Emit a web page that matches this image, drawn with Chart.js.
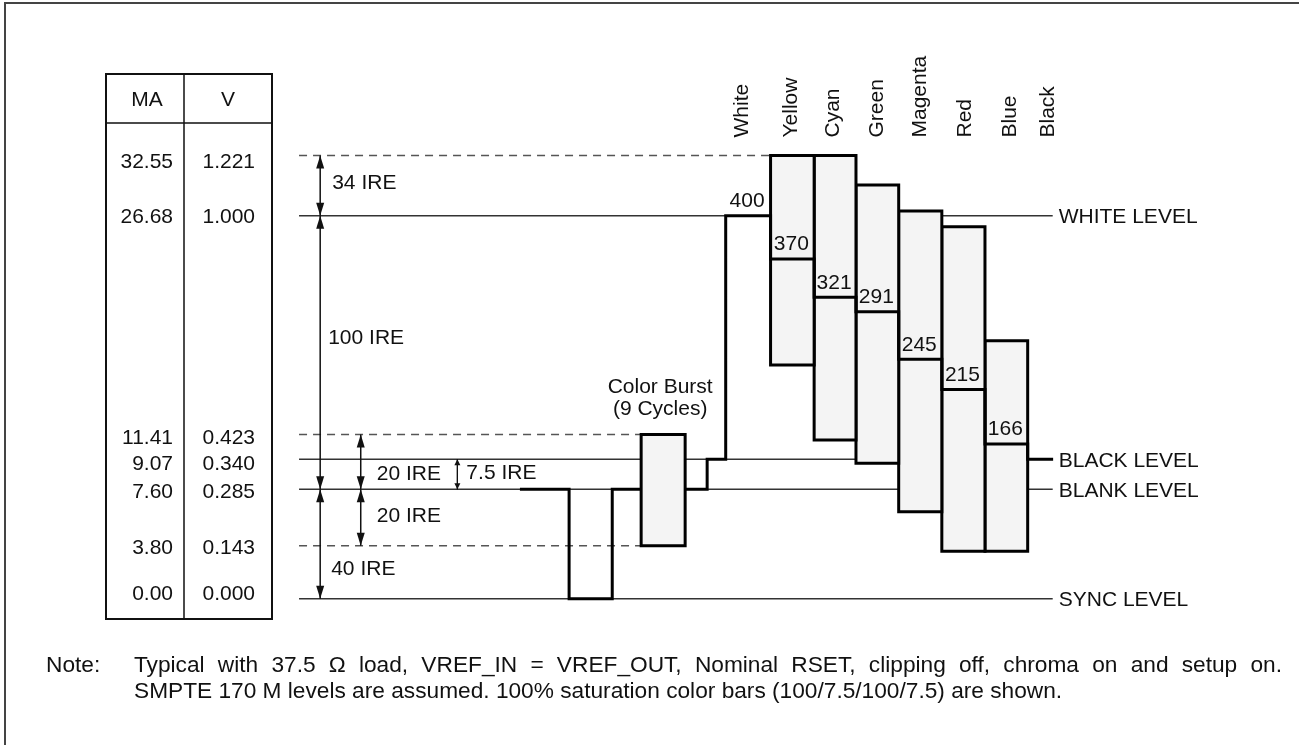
<!DOCTYPE html>
<html>
<head>
<meta charset="utf-8">
<script src="https://cdn.jsdelivr.net/npm/chart.js@4.4.1/dist/chart.umd.min.js"></script>
<style>
  html, body { margin: 0; padding: 0; background: #ffffff; }
  canvas { display: block; }
</style>
</head>
<body>
<canvas id="chart" width="1299" height="745"></canvas>
<script>
// ------------------------------------------------------------------
// DATA (time axis: 1 unit ≈ one colour-bar width; level axis: IRE as drawn)
// ------------------------------------------------------------------
const barNames      = ['White', 'Yellow', 'Cyan', 'Green', 'Magenta', 'Red', 'Blue', 'Black'];
const barEdges      = [0, 1.04, 2.05, 3.02, 4.01, 5.01, 6.01, 7.00, 7.59];
const lumaLevels    = [100, 84.2, 70.2, 64.9, 47.5, 36.5, 16.6, 11];
const chromaTop     = [null, 122, 122, 111.2, 101.7, 96.0, 54.3, null];
const chromaBottom  = [null, 45.4, 18.0, 9.5, -8.2, -22.6, -22.6, null];
const dacCodes      = ['400', '370', '321', '291', '245', '215', '166', null];

const levelValues   = [122, 100, 20, 11, 0, -20.6, -40];
const maLabels      = ['32.55', '26.68', '11.41', '9.07', '7.60', '3.80', '0.00'];
const vLabels       = ['1.221', '1.000', '0.423', '0.340', '0.285', '0.143', '0.000'];
const levelNames    = [null, 'WHITE LEVEL', null, 'BLACK LEVEL', 'BLANK LEVEL', null, 'SYNC LEVEL'];
const solidLevels   = [100, 11, 0, -40];
const dashedLevels  = [122, 20, -20.6];

// blank start, sync fall, sync rise, burst start, burst end, setup step
const blankingTimes = [-4.77, -3.63, -2.63, -1.96, -0.94, -0.43];
const burstLevels   = [20, -20.6];
const referenceSpan = [-9.89, 7.58];

const arrowX        = [-9.40, -9.40, -9.40, -8.46, -8.46, -6.22];
const arrowFrom     = [122, 100, 0, 20, 0, 11];
const arrowTo       = [100, 0, -40, 0, -20.6, 0];
const arrowLabels   = ['34 IRE', '100 IRE', '40 IRE', '20 IRE', '20 IRE', '7.5 IRE'];

const noteLines = [
  'Typical with 37.5 \u03A9 load, VREF_IN = VREF_OUT, Nominal RSET, clipping off, chroma on and setup on.',
  'SMPTE 170 M levels are assumed. 100% saturation color bars (100/7.5/100/7.5) are shown.'
];

// ------------------------------------------------------------------
// DATASETS built from the arrays
// ------------------------------------------------------------------
const [tBlank, tSyncFall, tSyncRise, tBurstStart, tBurstEnd, tSetup] = blankingTimes;
const LV = { peak: levelValues[0], white: levelValues[1], black: levelValues[3], blank: levelValues[4], sync: levelValues[6] };
const datasets = [];

solidLevels.forEach(v => datasets.push({
  data: [{ x: referenceSpan[0], y: v }, { x: referenceSpan[1], y: v }],
  borderColor: '#333', borderWidth: 1.5, order: 10
}));

const dashedEnds = [barEdges[1], tBurstStart, tBurstStart];
dashedLevels.forEach((v, i) => datasets.push({
  data: [{ x: referenceSpan[0], y: v }, { x: dashedEnds[i], y: v }],
  borderColor: '#555', borderWidth: 1.5, borderDash: [8, 6], order: 10
}));

arrowX.forEach((x, i) => datasets.push({
  data: [{ x, y: arrowFrom[i] }, { x, y: arrowTo[i] }],
  borderColor: '#111', borderWidth: i === 5 ? 1 : 1.5, order: 9,
  arrowHead: i === 5 ? [6, 3] : [13, 4]
}));

// waveform: blanking + sync (before burst)
datasets.push({
  data: [
    { x: tBlank, y: LV.blank }, { x: tSyncFall, y: LV.blank }, { x: tSyncFall, y: LV.sync },
    { x: tSyncRise, y: LV.sync }, { x: tSyncRise, y: LV.blank }, { x: tBurstStart, y: LV.blank }
  ],
  borderColor: '#000', borderWidth: 3, order: 5
});

// chroma envelopes (burst + colour bars)
function boxPath(x0, x1, top, bottom) {
  const xm = (x0 + x1) / 2;
  return [{ x: xm, y: bottom }, { x: x0, y: bottom }, { x: x0, y: top }, { x: x1, y: top }, { x: x1, y: bottom }, { x: xm, y: bottom }];
}
const boxes = [{ x0: tBurstStart, x1: tBurstEnd, top: burstLevels[0], bottom: burstLevels[1] }];
barNames.forEach((n, i) => {
  if (chromaTop[i] !== null) boxes.push({ x0: barEdges[i], x1: barEdges[i + 1], top: chromaTop[i], bottom: chromaBottom[i] });
});
boxes.forEach(b => datasets.push({
  data: boxPath(b.x0, b.x1, b.top, b.bottom),
  fill: 'shape', backgroundColor: '#f4f4f4', borderColor: '#000', borderWidth: 3, order: 3
}));

// waveform: after burst, setup, colour bars (luminance)
const active = [{ x: tBurstEnd, y: LV.blank }, { x: tSetup, y: LV.blank }, { x: tSetup, y: LV.black }, { x: barEdges[0], y: LV.black }];
lumaLevels.forEach((v, i) => { active.push({ x: barEdges[i], y: v }, { x: barEdges[i + 1], y: v }); });
datasets.push({ data: active, borderColor: '#000', borderWidth: 3, order: 1 });

// ------------------------------------------------------------------
// Drawing plugin for text, table, arrowheads, frame
// ------------------------------------------------------------------
const FONT = '"Liberation Sans", Arial, Helvetica, sans-serif';
const FS = 21;
function txt(ctx, s, x, yMid, size, align) {
  ctx.font = size + 'px ' + FONT;
  ctx.textAlign = align || 'left';
  ctx.textBaseline = 'alphabetic';
  ctx.fillText(s, x, yMid + size * 0.36);
}

const diagramPlugin = {
  id: 'diagram',
  beforeDraw(chart) {
    const ctx = chart.ctx;
    ctx.save();
    ctx.fillStyle = '#fff';
    ctx.fillRect(0, 0, chart.width, chart.height);
    ctx.strokeStyle = '#444';
    ctx.lineWidth = 2;
    ctx.beginPath();
    ctx.moveTo(5, chart.height); ctx.lineTo(5, 3); ctx.lineTo(chart.width, 3);
    ctx.stroke();
    ctx.restore();
  },
  afterDatasetsDraw(chart) {
    const ctx = chart.ctx;
    ctx.save();
    ctx.fillStyle = '#111';
    chart.data.datasets.forEach((ds, i) => {
      if (!ds.arrowHead) return;
      const pts = chart.getDatasetMeta(i).data;
      const [len, hw] = ds.arrowHead;
      [[pts[0], pts[1]], [pts[1], pts[0]]].forEach(([tip, other]) => {
        const dir = Math.sign(tip.y - other.y);
        ctx.beginPath();
        ctx.moveTo(tip.x, tip.y);
        ctx.lineTo(tip.x - hw, tip.y - dir * len);
        ctx.lineTo(tip.x + hw, tip.y - dir * len);
        ctx.closePath();
        ctx.fill();
      });
    });
    ctx.restore();
  },
  afterDraw(chart) {
    const ctx = chart.ctx;
    const X = v => chart.scales.x.getPixelForValue(v);
    const Y = v => chart.scales.y.getPixelForValue(v);
    ctx.save();
    ctx.fillStyle = '#111';

    // colour names (rotated)
    const nameX = [0.524, 1.646, 2.626, 3.653, 4.638, 5.69, 6.73, 7.61];
    barNames.forEach((n, i) => {
      ctx.save();
      ctx.translate(X(nameX[i]), Y(LV.peak) - 18);
      ctx.rotate(-Math.PI / 2);
      ctx.font = FS + 'px ' + FONT;
      ctx.textAlign = 'left';
      ctx.textBaseline = 'alphabetic';
      ctx.fillText(n, 0, 0);
      ctx.restore();
    });

    // DAC codes above each luminance step
    dacCodes.forEach((c, i) => {
      if (!c) return;
      txt(ctx, c, (X(barEdges[i]) + X(barEdges[i + 1])) / 2 - 1, Y(lumaLevels[i]) - 16, FS, 'center');
    });

    // dimension labels
    const lblOff = [[12, -4], [8, -16], [11, 23], [16, 10], [16, -3], [9, -3]];
    arrowLabels.forEach((s, i) => {
      const mid = (Y(arrowFrom[i]) + Y(arrowTo[i])) / 2;
      txt(ctx, s, X(arrowX[i]) + lblOff[i][0], mid + lblOff[i][1], FS, 'left');
    });

    // colour burst label
    const bx = (X(tBurstStart) + X(tBurstEnd)) / 2 - 3;
    txt(ctx, 'Color Burst', bx, Y(burstLevels[0]) - 49, FS, 'center');
    txt(ctx, '(9 Cycles)', bx, Y(burstLevels[0]) - 27, FS, 'center');

    // level names on the right
    levelNames.forEach((s, i) => {
      if (!s) return;
      txt(ctx, s, X(referenceSpan[1]) + 6, Y(levelValues[i]), FS, 'left');
    });

    // table
    const tL = 106, tR = 272, tT = 74, tB = 619, tD = 184, tH = 123;
    ctx.strokeStyle = '#111';
    ctx.lineWidth = 2;
    ctx.strokeRect(tL, tT, tR - tL, tB - tT);
    ctx.lineWidth = 1.5;
    ctx.beginPath();
    ctx.moveTo(tD, tT); ctx.lineTo(tD, tB);
    ctx.moveTo(tL, tH); ctx.lineTo(tR, tH);
    ctx.stroke();
    txt(ctx, 'MA', (tL + tD) / 2 + 2, (tT + tH) / 2, FS, 'center');
    txt(ctx, 'V', (tD + tR) / 2, (tT + tH) / 2, FS, 'center');
    const rowOff = [5, 0, 2, 3, 1, 1, -6];
    levelValues.forEach((v, i) => {
      const y = Y(v) + rowOff[i];
      txt(ctx, maLabels[i], 173, y, FS, 'right');
      txt(ctx, vLabels[i], 255, y, FS, 'right');
    });

    // note
    const ns = 22.7;
    ctx.font = ns + 'px ' + FONT;
    ctx.textAlign = 'left';
    ctx.textBaseline = 'alphabetic';
    const b1 = 672, b2 = 698;
    ctx.fillText('Note:', 46, b1);
    const words = noteLines[0].split(' ');
    const widths = words.map(w => ctx.measureText(w).width);
    const total = widths.reduce((a, b) => a + b, 0);
    const gap = (1282 - 134 - total) / (words.length - 1);
    let x = 134;
    words.forEach((w, i) => { ctx.fillText(w, x, b1); x += widths[i] + gap; });
    ctx.fillText(noteLines[1], 134, b2);
    ctx.restore();
  }
};

// ------------------------------------------------------------------
// CHART
// ------------------------------------------------------------------
const UNIT = 43.14, ORIGIN = 725.7, PXIRE = 2.736, BLANKPX = 489.3;
new Chart(document.getElementById('chart'), {
  type: 'line',
  data: { datasets },
  options: {
    responsive: false,
    animation: false,
    events: [],
    layout: { padding: 0 },
    elements: {
      point: { radius: 0, hoverRadius: 0 },
      line: { tension: 0, fill: false, borderJoinStyle: 'miter', borderCapStyle: 'butt' }
    },
    scales: {
      x: { type: 'linear', display: false, min: -ORIGIN / UNIT, max: (1299 - ORIGIN) / UNIT },
      y: { type: 'linear', display: false, min: (BLANKPX - 745) / PXIRE, max: BLANKPX / PXIRE }
    },
    plugins: { legend: { display: false }, tooltip: { enabled: false } }
  },
  plugins: [diagramPlugin]
});
</script>
</body>
</html>
